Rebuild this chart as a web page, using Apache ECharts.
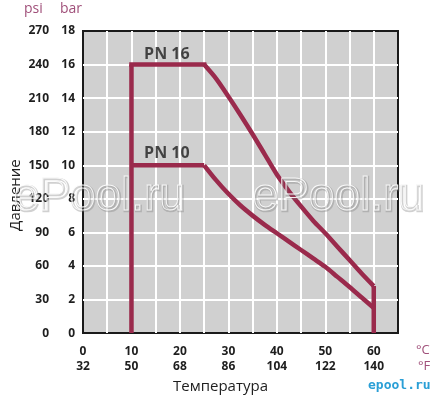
<!DOCTYPE html>
<html>
<head>
<meta charset="utf-8">
<script src="https://cdn.jsdelivr.net/npm/echarts@6/dist/echarts.min.js"></script>
<style>
  html, body { margin: 0; padding: 0; background: #fff; }
  #chart { width: 435px; height: 399px; }
</style>
</head>
<body>
<div id="chart"></div>
<script>
// temperature ticks, °C on top row, °F below
const tempC = [0, 10, 20, 30, 40, 50, 60];
const tempF = [32, 50, 68, 86, 104, 122, 140];

// PN 16: flat part from 10 to 25 °C, then the falling curve (°C, bar)
const pn16Temp = [10, 25, 27.5, 30, 32.5, 35, 37.5, 40, 42.5, 45, 47.5, 50, 52.5, 55, 57.5, 60];
const pn16Bar = [16, 16, 15.15, 14.1, 13.0, 11.85, 10.65, 9.45, 8.45, 7.55, 6.7, 5.95, 5.15, 4.35, 3.55, 2.8];

// PN 10 (°C, bar)
const pn10Temp = [10, 25, 27.5, 30, 32.5, 35, 37.5, 40, 42.5, 45, 47.5, 50, 52.5, 55, 57.5, 60];
const pn10Bar = [10, 10, 9.1, 8.3, 7.6, 7.0, 6.45, 5.95, 5.45, 4.95, 4.45, 3.95, 3.35, 2.75, 2.12, 1.5];

// where the PN labels sit (°C, bar)
const pnLabels = [['PN 16', 17.3, 16.6], ['PN 10', 17.3, 10.7]];

const lineColor = '#9a2a4c';
const accent = '#a0507a';
const tickFont = { color: '#1e1e1e', fontWeight: 'bold', fontSize: 12, fontFamily: 'Open Sans' };

const zip = (xs, ys) => xs.map((x, i) => [x, ys[i]]);
const lineStyle = {color: lineColor, width: 4.5, join: 'miter', cap: 'butt'};

const myChart = echarts.init(document.getElementById('chart'));

const pn16 = zip(pn16Temp, pn16Bar);
const pn10 = zip(pn10Temp, pn10Bar);
const last16 = pn16[pn16.length - 1];

const watermark = (left) => [
    {type: 'text', left: left, top: 174, z: 100, silent: true,
        style: {text: 'ePool.ru', fill: 'rgba(0,0,0,0)', stroke: 'rgba(120,120,120,0.35)', lineWidth: 2.6, fontSize: 46, fontFamily: 'Liberation Sans'}},
    {type: 'text', left: left, top: 174, z: 101, silent: true,
        style: {text: 'ePool.ru', fill: 'rgba(0,0,0,0)', stroke: 'rgba(255,255,255,0.9)', lineWidth: 1, fontSize: 46, fontFamily: 'Liberation Sans'}}
];

const option = {
    animation: false,
    grid: {
        left: 81, right: 37, top: 31, bottom: 65,
        show: true,
        backgroundColor: '#d0d0d0',
        borderColor: '#1a1a1a',
        borderWidth: 2
    },
    xAxis: {
        type: 'value',
        min: 0, max: 65, interval: 5,
        axisLine: {show: false},
        axisTick: {show: false},
        splitLine: {show: true, showMinLine: false, showMaxLine: false, lineStyle: {color: '#ffffff', width: 2}},
        axisLabel: Object.assign({}, tickFont, {
            margin: 11,
            lineHeight: 15,
            formatter: v => {
                const i = tempC.indexOf(v);
                return i < 0 ? '' : tempC[i] + '\n' + tempF[i];
            }
        }),
        name: 'Температура',
        nameLocation: 'middle',
        nameGap: 44,
        nameTextStyle: {color: '#1e1e1e', fontSize: 15, fontFamily: 'Open Sans', padding: [0, 40, 0, 0]}
    },
    yAxis: [
        {
            type: 'value',
            min: 0, max: 18, interval: 2,
            position: 'left',
            axisLine: {show: false},
            axisTick: {show: false},
            splitLine: {show: true, showMinLine: false, showMaxLine: false, lineStyle: {color: '#ffffff', width: 2}},
            axisLabel: Object.assign({}, tickFont, {margin: 8}),
            name: 'Давление',
            nameLocation: 'middle',
            nameGap: 60,
            nameTextStyle: {color: '#1e1e1e', fontSize: 15, fontFamily: 'Open Sans', padding: [0, 26, 0, 0]}
        },
        {
            type: 'value',
            min: 0, max: 270, interval: 30,
            position: 'left',
            offset: 26,
            axisLine: {show: false},
            axisTick: {show: false},
            splitLine: {show: false},
            axisLabel: Object.assign({}, tickFont, {margin: 8})
        }
    ],
    series: [
        // wall at the start temperature and at the end temperature
        {
            type: 'line',
            data: [[pn16[0][0], 0], pn16[0]],
            showSymbol: false,
            lineStyle: lineStyle,
            z: 3
        },
        {
            type: 'line',
            data: [last16, [last16[0], 0]],
            showSymbol: false,
            lineStyle: lineStyle,
            z: 3
        },
        // flat parts
        {
            type: 'line',
            data: pn16.slice(0, 2),
            showSymbol: false,
            lineStyle: Object.assign({}, lineStyle, {cap: 'square'}),
            z: 3
        },
        {
            type: 'line',
            data: pn10.slice(0, 2),
            showSymbol: false,
            lineStyle: lineStyle,
            z: 3
        },
        // falling curves
        {
            name: 'PN 16',
            type: 'line',
            data: pn16.slice(1),
            smooth: 0.3,
            showSymbol: false,
            lineStyle: lineStyle,
            z: 3
        },
        {
            name: 'PN 10',
            type: 'line',
            data: pn10.slice(1),
            smooth: 0.3,
            showSymbol: false,
            lineStyle: lineStyle,
            z: 3
        },
        {
            type: 'scatter',
            symbolSize: 0,
            data: pnLabels.map(p => ({value: [p[1], p[2]], name: p[0]})),
            label: {
                show: true,
                position: 'inside',
                formatter: p => p.name,
                color: '#1e1e1e',
                fontWeight: 'bold',
                fontSize: 16,
                fontFamily: 'Open Sans'
            },
            silent: true,
            z: 4
        }
    ],
    graphic: [
        {type: 'text', left: 24, top: 2, style: {text: 'psi', fill: accent, fontSize: 14, fontFamily: 'Open Sans'}},
        {type: 'text', left: 60, top: 2, style: {text: 'bar', fill: accent, fontSize: 14, fontFamily: 'Open Sans'}},
        {type: 'text', left: 416, top: 344, style: {text: '°C', fill: accent, fontSize: 13, fontFamily: 'Open Sans'}},
        {type: 'text', left: 418, top: 360, style: {text: '°F', fill: accent, fontSize: 13, fontFamily: 'Open Sans'}},
        {type: 'text', left: 368, top: 379, style: {text: 'epool.ru', fill: '#2a9fd6', fontSize: 13, fontWeight: 'bold', fontFamily: 'DejaVu Sans Mono'}}
    ].concat(watermark(13), watermark(252))
};

myChart.setOption(option, true);
</script>
</body>
</html>
